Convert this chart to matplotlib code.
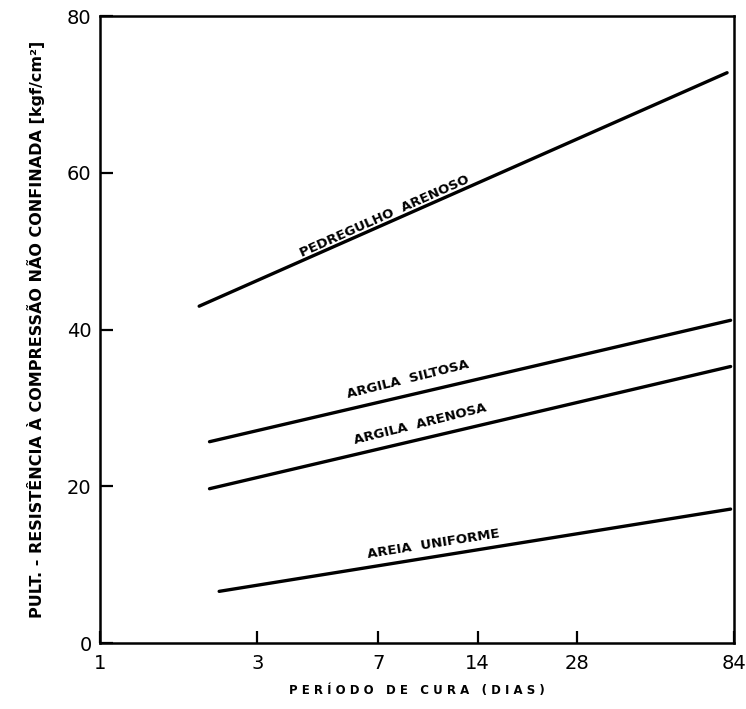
import matplotlib.pyplot as plt
import matplotlib.ticker as ticker
import numpy as np

# curves: (start, end) in days and kgf/cm2
soil_names = ["PEDREGULHO  ARENOSO", "ARGILA  SILTOSA", "ARGILA  ARENOSA", "AREIA  UNIFORME"]
days_start = [2.0, 2.15, 2.15, 2.3]
days_end = [80.0, 82.0, 82.0, 82.0]
strength_start = [43.0, 25.7, 19.7, 6.6]
strength_end = [72.8, 41.2, 35.3, 17.1]

# label anchor (days, strength) and angle
label_days = [7.3, 8.6, 9.4, 10.3]
label_strength = [54.4, 33.6, 28.0, 12.6]
label_angle = [24, 14, 14, 9]

x_ticks = [1, 3, 7, 14, 28, 84]
y_ticks = [0, 20, 40, 60, 80]

fig = plt.figure(figsize=(7.46, 7.09), dpi=100)
ax = fig.add_axes([0.134, 0.093, 0.850, 0.884])

for i in range(len(soil_names)):
    ax.plot([days_start[i], days_end[i]], [strength_start[i], strength_end[i]],
            color="black", lw=2.4, solid_capstyle="round")
    ax.text(label_days[i], label_strength[i], soil_names[i], rotation=label_angle[i],
            rotation_mode="anchor", ha="center", va="center", fontsize=9.5,
            fontweight="bold")

ax.set_xscale("log")
ax.set_xlim(1, 84)
ax.set_ylim(0, 80)
ax.xaxis.set_major_locator(ticker.FixedLocator(x_ticks))
ax.xaxis.set_major_formatter(ticker.FixedFormatter([str(t) for t in x_ticks]))
ax.xaxis.set_minor_locator(ticker.NullLocator())
ax.set_yticks(y_ticks)

for s in ax.spines.values():
    s.set_linewidth(1.8)

ax.tick_params(axis="both", direction="in", length=9, width=1.6)
ax.tick_params(axis="x", pad=8, labelsize=14)
ax.tick_params(axis="y", pad=6, labelsize=14)

ax.set_xlabel("P E R Í O D O   D E   C U R A   ( D I A S )", fontsize=8.5,
              fontweight="bold", labelpad=8)
ax.set_ylabel("PULT. - RESISTÊNCIA À COMPRESSÃO NÃO CONFINADA [kgf/cm²]", fontsize=11.5,
              fontweight="bold", labelpad=16)

plt.savefig("out.png", dpi=100)
